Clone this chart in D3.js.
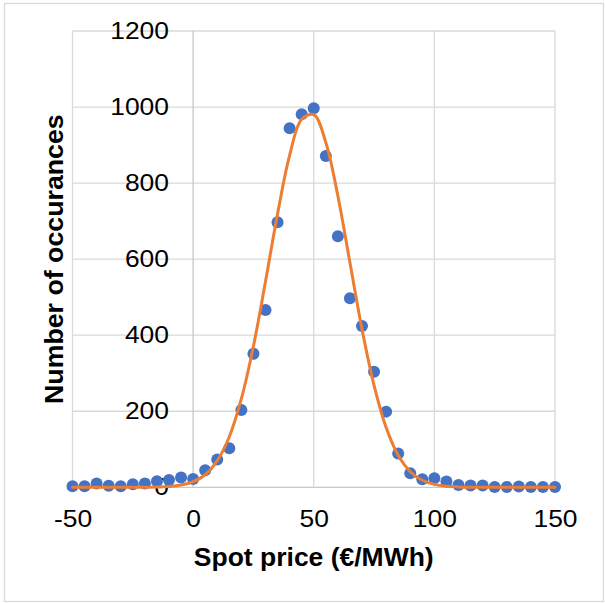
<!DOCTYPE html>
<html lang="en">
<head>
    <meta charset="UTF-8">
    <title>Spot price distribution</title>
    <style>
        body { margin: 0; background: #fff; }
        * { font-family: 'Liberation Sans', Arial, sans-serif; }
        .tick text { fill: #000; }
    </style>
</head>
<body>
    <div id="container"></div>
    <script src="https://d3js.org/d3.v7.min.js"></script>
    <script>
        // spot price bins (EUR/MWh)
        const price = [-50, -45, -40, -35, -30, -25, -20, -15, -10, -5, 0, 5, 10, 15, 20, 25, 30, 35, 40, 45,
            50, 55, 60, 65, 70, 75, 80, 85, 90, 95, 100, 105, 110, 115, 120, 125, 130, 135, 140, 145, 150];
        // observed occurances per bin
        const occurances = [3, 3, 10, 4, 3, 8, 10, 16, 19, 26, 22, 45, 73, 103, 203, 351, 466, 697, 944, 981,
            997, 871, 660, 497, 424, 304, 199, 89, 37, 21, 24, 15, 6, 5, 5, 1, 1, 2, 1, 1, 1];
        // fitted curve at the same bins
        const fitted = [0, 0, 0, 0, 0, 0.1, 0.2, 0.7, 2.1, 5.8, 14.6, 33, 70, 133, 233, 371, 541, 719, 873, 968,
            980, 907, 766, 591, 416, 268, 157, 84, 41, 18.5, 7.6, 2.8, 1, 0.3, 0.1, 0, 0, 0, 0, 0, 0];

        const xTicks = [-50, 0, 50, 100, 150];
        const xTickLabels = ['-50', '0', '50', '100', '150'];
        const yTicks = [0, 200, 400, 600, 800, 1000, 1200];
        const yTickLabels = ['0', '200', '400', '600', '800', '1000', '1200'];

        const width = 605, height = 603;
        const plot = {left: 72.5, right: 555, top: 31, bottom: 487.3};
        const stretch = 1.1; // text in the picture is a bit wide

        const svg = d3.select('#container').append('svg')
            .attr('width', width).attr('height', height);

        // chart border
        svg.append('rect').attr('x', 4.5).attr('y', 3.5)
            .attr('width', 599).attr('height', 598)
            .attr('fill', '#fff').attr('stroke', '#d9d9d9').attr('stroke-width', 1.3);

        const x = d3.scaleLinear().domain([-50, 150]).range([plot.left, plot.right]);
        const y = d3.scaleLinear().domain([0, 1200]).range([plot.bottom, plot.top]);

        // gridlines
        svg.append('g').selectAll('line').data(yTicks).join('line')
            .attr('x1', x(-50)).attr('x2', x(150))
            .attr('y1', d => y(d)).attr('y2', d => y(d))
            .attr('stroke', d => d === 0 ? '#c8c8c8' : '#d9d9d9').attr('stroke-width', 1.3);
        svg.append('g').selectAll('line').data(xTicks).join('line')
            .attr('x1', d => x(d)).attr('x2', d => x(d))
            .attr('y1', y(0)).attr('y2', y(1200))
            .attr('stroke', d => d === 0 ? '#c8c8c8' : '#d9d9d9').attr('stroke-width', 1.3);

        // axes - labels only, y axis crosses at 0
        const yAxis = svg.append('g').attr('transform', `translate(${x(0)},0)`)
            .call(d3.axisLeft(y).tickValues(yTicks).tickSize(0).tickPadding(22)
                .tickFormat((d, i) => yTickLabels[i]));
        const xAxis = svg.append('g').attr('transform', `translate(0,${y(0)})`)
            .call(d3.axisBottom(x).tickValues(xTicks).tickSize(0).tickPadding(22.5)
                .tickFormat((d, i) => xTickLabels[i]));
        [yAxis, xAxis].forEach(a => {
            a.select('.domain').remove();
            a.selectAll('text').attr('font-size', 24)
                .attr('font-family', "'Liberation Sans', Arial, sans-serif")
                .attr('transform', `scale(${stretch},1)`);
        });

        // observed points
        svg.append('g').selectAll('circle').data(price).join('circle')
            .attr('cx', d => x(d))
            .attr('cy', (d, i) => y(occurances[i]))
            .attr('r', 6)
            .attr('fill', '#4472c4');

        // fitted curve on top
        const line = d3.line()
            .x(d => x(d))
            .y((d, i) => y(fitted[i]))
            .curve(d3.curveCatmullRom);
        svg.append('path').datum(price)
            .attr('fill', 'none').attr('stroke', '#ed7d31')
            .attr('stroke-width', 3).attr('stroke-linecap', 'round')
            .attr('d', line);

        // axis titles
        svg.append('text')
            .attr('transform', `translate(${(plot.left + plot.right) / 2},566) scale(1.06,1)`)
            .attr('text-anchor', 'middle').attr('font-size', 25).attr('font-weight', 'bold')
            .text('Spot price (€/MWh)');
        svg.append('text')
            .attr('transform', `translate(63,${(plot.top + plot.bottom) / 2}) rotate(-90) scale(1.07,1)`)
            .attr('text-anchor', 'middle').attr('font-size', 25).attr('font-weight', 'bold')
            .text('Number of occurances');
    </script>
</body>
</html>
